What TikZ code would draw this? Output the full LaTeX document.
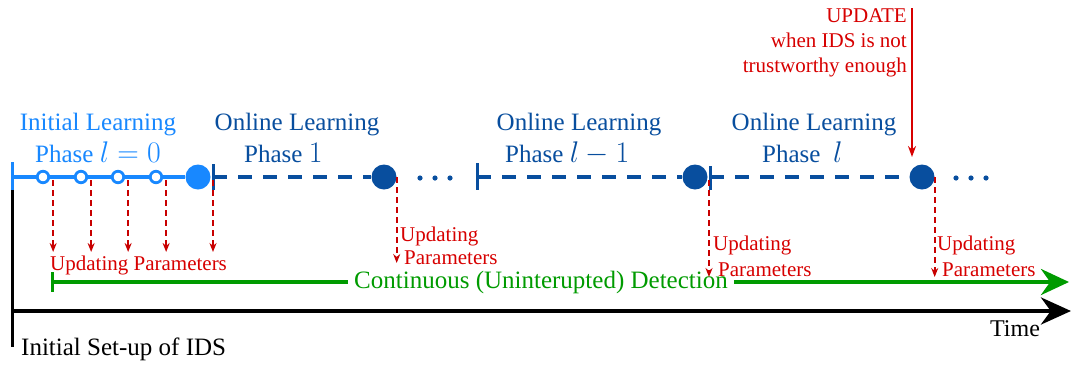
\documentclass[tikz,border=0pt]{standalone}
\usepackage{graphicx}
\usepackage{fontspec}
\setmainfont{Liberation Serif}
\usetikzlibrary{arrows.meta,backgrounds}
\definecolor{lblue}{RGB}{24,136,255}
\definecolor{dblue}{RGB}{8,78,158}
\definecolor{myred}{RGB}{215,0,0}
\definecolor{dred}{RGB}{200,0,0}
\definecolor{mygreen}{RGB}{0,155,0}
\newcommand\bigmath[1]{\scalebox{1.2}{$#1$}}
\begin{document}
\begin{tikzpicture}[x=1pt,y=-1pt,
  bigtxt/.style={font=\fontsize{25}{29}\selectfont, inner sep=0pt},
  smalltxt/.style={font=\fontsize{21}{25}\selectfont, text=myred, inner sep=0pt},
  bigdot/.style={circle, fill, inner sep=0pt, minimum size=25pt},
  odot/.style={circle, draw=lblue, line width=2.8pt, fill=white, inner sep=0pt, minimum size=11.5pt},
  upd/.style={dred, line width=1.7pt, dash pattern=on 6pt off 4pt, -{Stealth[length=9pt,width=7pt]}},
  tick/.style={line width=3pt},
  phaseline/.style={dblue, line width=4pt, dash pattern=on 14pt off 11pt}
]
\useasboundingbox (0,0) rectangle (1071,365);

% ---------- points on the time line ----------
\coordinate (t0) at (12,177);
\coordinate (t1) at (213,177);
\coordinate (t2) at (477,177);
\coordinate (t3) at (710,177);
\coordinate (ylo1) at (0,252);
\coordinate (ylo2) at (0,263);
\coordinate (ylo3) at (0,277);

% ---------- phase nodes ----------
\node[odot] (s1) at (43,177) {};
\node[odot] (s2) at (81,177) {};
\node[odot] (s3) at (118,177) {};
\node[odot] (s4) at (156,177) {};
\node[bigdot, fill=lblue] (b0) at (198,177) {};
\node[bigdot, fill=dblue] (d1) at (384,177) {};
\node[bigdot, fill=dblue] (d2) at (695,177) {};
\node[bigdot, fill=dblue] (d3) at (922,177) {};

\foreach \x in {420,435,450,956,971,986}
  \fill[dblue] (\x,178) circle (2.6pt);

% ---------- labels ----------
\node[bigtxt, text=lblue, anchor=base] (lab0a) at (98,130) {Initial Learning};
\node[bigtxt, text=lblue, anchor=base west] (lab0b) at (35,162) {Phase \bigmath{l=0}};
\node[bigtxt, text=dblue, anchor=base] (lab1a) at (297,130) {Online Learning};
\node[bigtxt, text=dblue, anchor=base west] (lab1b) at (244,162) {Phase \bigmath{1}};
\node[bigtxt, text=dblue, anchor=base] (lab2a) at (579,130) {Online Learning};
\node[bigtxt, text=dblue, anchor=base west] (lab2b) at (505,162) {Phase \bigmath{l-1}};
\node[bigtxt, text=dblue, anchor=base] (lab3a) at (814,130) {Online Learning};
\node[bigtxt, text=dblue, anchor=base west] (lab3b) at (762,162) {Phase\ \ \bigmath{l}};

% ---------- lines behind the nodes ----------
\begin{scope}[on background layer]
  \draw[lblue, line width=4pt] (t0) -- (b0);
  \draw[lblue, tick] (t0) ++(0,-15) -- ++(0,28);
  \draw[dblue, tick] (t1) ++(0,-13) -- ++(0,26);
  \draw[dblue, tick] (t2) ++(0,-14) -- ++(0,27);
  \draw[dblue, tick] (t3) ++(0,-11) -- ++(0,24);
  \draw[phaseline] (t1) -- (d1);
  \draw[phaseline] (t2) -- (d2);
  \draw[phaseline] (t3) -- (d3);
\end{scope}

% ---------- time axis ----------
\coordinate (ax0) at (12,311);
\coordinate (ax1) at (1071,311);
\coordinate (vb) at (12,347);
\draw[line width=3pt] (t0) ++(0,13) -- (vb);
\draw[line width=4.5pt, -{Stealth[length=30pt,width=27pt]}] (ax0) -- (ax1);
\node[font=\fontsize{24}{28}\selectfont, inner sep=0pt, anchor=base] (time) at (1015,336) {Time};
\node[font=\fontsize{25}{28}\selectfont, inner sep=0pt, anchor=base west] (setup) at (21,355) {Initial Set-up of IDS};

% ---------- continuous detection ----------
\coordinate (g0) at (52,282);
\coordinate (g1) at (1069,282);
\node[bigtxt, text=mygreen, inner xsep=6pt] (cont) at (541,282) {Continuous (Uninterupted) Detection};
\draw[mygreen, line width=4pt] (g0) -- (cont);
\draw[mygreen, line width=4pt, -{Stealth[length=28pt,width=26pt]}] (cont) -- (g1);
\draw[mygreen, tick] (g0) ++(0,-10) -- ++(0,20);

% ---------- updating parameters ----------
\draw[upd] (s1.east) ++(3,3) -- ([xshift=3pt]s1.east |- ylo1);
\draw[upd] (s2.east) ++(3,3) -- ([xshift=3pt]s2.east |- ylo1);
\draw[upd] (s3.east) ++(3,3) -- ([xshift=3pt]s3.east |- ylo1);
\draw[upd] (s4.east) ++(3,3) -- ([xshift=3pt]s4.east |- ylo1);
\draw[upd] (t1) ++(0,3) -- (t1 |- ylo1);
\node[smalltxt, anchor=base west] (up0) at (50,270) {Updating Parameters};

\draw[upd] (d1.east) -- (d1.east |- ylo2);
\node[smalltxt, anchor=base west] (up1a) at (400,241) {Updating};
\node[smalltxt, anchor=base west] (up1b) at (404,264) {Parameters};

\draw[upd] (t3) ++(-1,3) -- ([xshift=-1pt]t3 |- ylo3);
\node[smalltxt, anchor=base west] (up2a) at (713,250) {Updating};
\node[smalltxt, anchor=base west] (up2b) at (718,276) {Parameters};

\draw[upd] (d3.east) -- (d3.east |- ylo3);
\node[smalltxt, anchor=base west] (up3a) at (937,250) {Updating};
\node[smalltxt, anchor=base west] (up3b) at (942,276) {Parameters};

% ---------- UPDATE trigger ----------
\coordinate (utop) at (912,8);
\coordinate (ubot) at (912,157);
\draw[myred, line width=1.7pt, -{Stealth[length=11pt,width=8pt]}] (utop) -- (ubot);
\node[smalltxt, anchor=north east, align=right] (updtxt) at (907,8) {UPDATE\\when IDS is not\\trustworthy enough};
\end{tikzpicture}
\end{document}
